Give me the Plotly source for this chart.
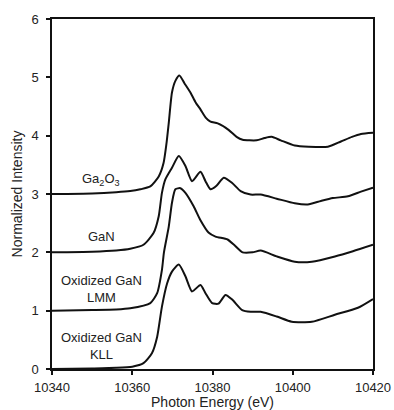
import plotly.graph_objects as go

# Ga2O3 (offset by 3)
ga2o3_x = [10340, 10350, 10356, 10359.5, 10362, 10364.5, 10366.6, 10367.8, 10368.5, 10369.1, 10369.9,
           10370.75, 10371.75, 10373, 10374.5, 10375.8, 10377, 10378.3, 10379.5, 10381.3, 10384,
           10386, 10387.5, 10391, 10393, 10394.75, 10397, 10400.5, 10404, 10408.75, 10412, 10414.75,
           10417, 10420]
ga2o3_y = [3.0, 3.01, 3.03, 3.05, 3.08, 3.13, 3.3, 3.53, 3.85, 4.22, 4.74,
           4.94, 5.03, 4.9, 4.74, 4.57, 4.45, 4.31, 4.24, 4.21, 4.1,
           3.98, 3.93, 3.92, 3.96, 3.98, 3.92, 3.83, 3.81, 3.81, 3.9, 3.98,
           4.03, 4.05]

# GaN (offset by 2)
gan_x = [10340, 10350, 10356, 10359.5, 10362.8, 10365.3, 10366.6, 10367.4, 10368.25, 10369.9, 10371.6,
         10373.25, 10374.9, 10377, 10378.25, 10379.5, 10381, 10382.8, 10384.9, 10387, 10389.5,
         10392, 10396, 10400.5, 10403.75, 10407, 10410, 10413.75, 10417, 10420]
gan_y = [2.0, 2.01, 2.03, 2.06, 2.13, 2.33, 2.62, 3.02, 3.25, 3.45, 3.65,
         3.48, 3.22, 3.38, 3.22, 3.08, 3.14, 3.28, 3.19, 3.05, 2.99,
         2.99, 2.92, 2.84, 2.82, 2.88, 2.93, 2.96, 3.04, 3.11]

# Oxidized GaN LMM (offset by 1)
lmm_x = [10340, 10350, 10356, 10359.5, 10364.5, 10366.2, 10367.4, 10367.9, 10369.1, 10369.9, 10370.75,
         10372, 10373.25, 10375.3, 10377, 10379, 10380.75, 10383.75, 10385.5, 10387.5, 10390,
         10392, 10396, 10400.5, 10404.75, 10410.5, 10415, 10420]
lmm_y = [1.0, 1.01, 1.02, 1.04, 1.13, 1.3, 1.7, 2.0, 2.44, 2.85, 3.08,
         3.1, 3.02, 2.79, 2.55, 2.34, 2.27, 2.22, 2.12, 2.0, 2.0,
         2.03, 1.93, 1.84, 1.84, 1.93, 2.02, 2.13]

# Oxidized GaN KLL (no offset)
kll_x = [10340, 10350, 10356, 10360, 10362.8, 10364.9, 10366.2, 10367.4, 10368.7, 10369.9, 10371.6,
         10373.25, 10374.9, 10377, 10378.25, 10379.9, 10381.5, 10383.25, 10384.9, 10387.4, 10389.5,
         10392, 10396, 10399.75, 10404.75, 10410.5, 10416.25, 10420]
kll_y = [0.0, 0.01, 0.02, 0.04, 0.1, 0.27, 0.55, 1.07, 1.47, 1.67, 1.79,
         1.59, 1.33, 1.44, 1.3, 1.13, 1.12, 1.27, 1.19, 1.01, 0.98,
         0.98, 0.9, 0.81, 0.81, 0.93, 1.05, 1.2]

label_text = ["Ga<sub>2</sub>O<sub>3</sub>", "GaN", "Oxidized GaN<br>LMM", "Oxidized GaN<br>KLL"]
label_x = [10352.25, 10352.25, 10352.25, 10352.25]
label_y = [3.25, 2.28, 1.38, 0.40]

x_ticks = [10340, 10360, 10380, 10400, 10420]
y_ticks = [0, 1, 2, 3, 4, 5, 6]

FONT = "Liberation Sans, Arial, sans-serif"
TXT = "#222222"

fig = go.Figure()
for xs, ys in [(ga2o3_x, ga2o3_y), (gan_x, gan_y), (lmm_x, lmm_y), (kll_x, kll_y)]:
    fig.add_trace(go.Scatter(x=xs, y=ys, mode="lines",
                             line=dict(color="#111111", width=2, shape="spline", smoothing=0.6),
                             showlegend=False, hoverinfo="skip"))

for t, lx, ly in zip(label_text, label_x, label_y):
    fig.add_annotation(x=lx, y=ly, text=t, showarrow=False, xref="x", yref="y",
                       font=dict(family=FONT, size=13, color=TXT), align="center")

fig.update_layout(
    width=394, height=410,
    margin=dict(l=52, r=21, t=19, b=41, autoexpand=False),
    plot_bgcolor="white", paper_bgcolor="white",
    font=dict(family=FONT, size=13, color=TXT),
    showlegend=False,
)
fig.update_xaxes(range=[10340, 10420], tickvals=x_ticks, ticktext=[str(v) for v in x_ticks],
                 showgrid=False, zeroline=False, showline=True, linecolor="#111111", linewidth=1.5,
                 mirror=True, ticks="outside", ticklen=4, tickwidth=1.5, tickcolor="#111111",
                 ticklabelstandoff=2, automargin=False,
                 title=dict(text="Photon Energy (eV)", standoff=2, font=dict(size=14)))
fig.update_yaxes(range=[0, 6], tickvals=y_ticks, showgrid=False, zeroline=False, showline=True,
                 linecolor="#111111", linewidth=1.5, mirror=True, ticks="outside", ticklen=4,
                 tickwidth=1.5, tickcolor="#111111", ticklabelstandoff=5, automargin=False,
                 title=dict(text="Normalized Intensity", standoff=6, font=dict(size=14)))

fig.write_html("out.html", config={"displayModeBar": False},
               post_script="document.body.style.margin='0';document.body.style.padding='0';")
